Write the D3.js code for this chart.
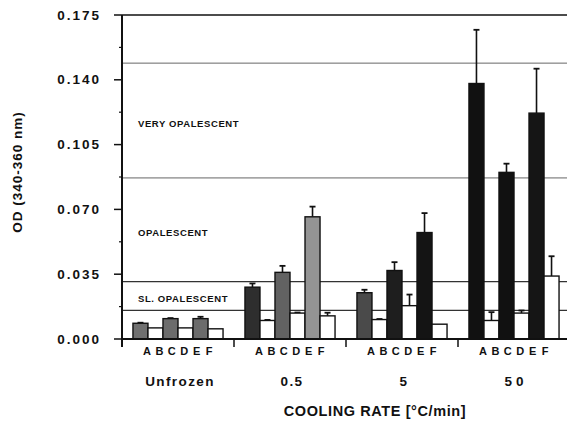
<!DOCTYPE html>
<html>
<head>
<meta charset="utf-8">
<script src="https://cdn.jsdelivr.net/npm/d3@7"></script>
<style>
  body { margin: 0; background: #fff; }
  svg text { font-family: "Liberation Sans", Arial, sans-serif; font-weight: bold; fill: #111; }
</style>
</head>
<body>
<div id="chart"></div>
<script>
// cooling rate groups and samples
const groups = ["Unfrozen", "0.5", "5", "50"];
const samples = ["A", "B", "C", "D", "E", "F"];

// OD values, one row per group (A..F)
const odValues = [
    [0.0085, 0.0060, 0.0110, 0.0060, 0.0110, 0.0055],
    [0.0280, 0.0100, 0.0360, 0.0140, 0.0660, 0.0125],
    [0.0250, 0.0105, 0.0370, 0.0180, 0.0575, 0.0080],
    [0.1380, 0.0100, 0.0900, 0.0140, 0.1220, 0.0340]
];
// upper error bars
const odErrors = [
    [0.0003, 0.0000, 0.0003, 0.0000, 0.0010, 0.0000],
    [0.0020, 0.0003, 0.0035, 0.0003, 0.0055, 0.0017],
    [0.0016, 0.0003, 0.0045, 0.0060, 0.0105, 0.0000],
    [0.0290, 0.0045, 0.0047, 0.0014, 0.0240, 0.0107]
];

// threshold lines and the zone labels
const thresholds = [0.0155, 0.031, 0.087, 0.149];
const zoneLabels = [
    {text: "VERY OPALESCENT", value: 0.1165},
    {text: "OPALESCENT", value: 0.0575},
    {text: "SL. OPALESCENT", value: 0.022}
];
const yTicks = [0, 0.035, 0.070, 0.105, 0.140, 0.175];

// shade of the dark bars (A, C, E) per group
const darkFill = [
    ["#707070", "#6c6c6c", "#6c6c6c"],
    ["#2e2e2e", "#626262", "#949494"],
    ["#4a4a4a", "#1e1e1e", "#141414"],
    ["#111111", "#111111", "#151515"]
];

const svgWidth = 567, svgHeight = 421;
const svg = d3.select("#chart").append("svg")
    .attr("width", svgWidth)
    .attr("height", svgHeight);

let y = d3.scaleLinear().domain([0, 0.175]).range([339, 15]);
let xGroup = d3.scaleBand().domain(groups).range([122, 570]).padding(0);
let xBar = d3.scaleBand().domain(samples).range([0, xGroup.bandwidth()])
    .paddingInner(0).paddingOuter(0.73);
let xLetter = d3.scalePoint().domain(samples).range([-31, 31]);

//Threshold lines
svg.append("g")
    .selectAll("line")
    .data(thresholds)
    .enter().append("line")
    .attr("x1", 122).attr("x2", svgWidth)
    .attr("y1", d => y(d)).attr("y2", d => y(d))
    .attr("stroke", (d, i) => i < 2 ? "#333" : "#666")
    .attr("stroke-width", (d, i) => i < 2 ? 1.3 : 1);

//top frame line
svg.append("line")
    .attr("x1", 122).attr("x2", svgWidth)
    .attr("y1", y(0.175)).attr("y2", y(0.175))
    .attr("stroke", "#111").attr("stroke-width", 1.6);

//zone labels
svg.append("g")
    .selectAll("text")
    .data(zoneLabels)
    .enter().append("text")
    .attr("x", 138)
    .attr("y", d => y(d.value))
    .attr("dominant-baseline", "central")
    .attr("font-size", 9.5)
    .attr("letter-spacing", 0.6)
    .text(d => d.text);

//bars
let barData = [];
groups.forEach((g, gi) => {
    samples.forEach((s, si) => {
        barData.push({group: g, gi: gi, sample: s, si: si,
            value: odValues[gi][si], err: odErrors[gi][si]});
    });
});

let bars = svg.append("g").selectAll("g")
    .data(barData)
    .enter().append("g")
    .attr("transform", d => `translate(${xGroup(d.group) + xBar(d.sample)}, 0)`);

const bw = xBar.bandwidth();

//error bars drawn first so bar covers the stem
bars.filter(d => d.err > 0.0002)
    .append("line")
    .attr("x1", bw / 2).attr("x2", bw / 2)
    .attr("y1", d => y(d.value)).attr("y2", d => y(d.value + d.err))
    .attr("stroke", "#111").attr("stroke-width", 1.6);
bars.filter(d => d.err > 0.0002)
    .append("line")
    .attr("x1", bw / 2 - 3).attr("x2", bw / 2 + 3)
    .attr("y1", d => y(d.value + d.err)).attr("y2", d => y(d.value + d.err))
    .attr("stroke", "#111").attr("stroke-width", 1.8);

bars.append("rect")
    .attr("x", 0)
    .attr("width", bw)
    .attr("y", d => y(d.value))
    .attr("height", d => y(0) - y(d.value))
    .attr("fill", d => d.si % 2 === 0 ? darkFill[d.gi][d.si / 2] : "#fff")
    .attr("stroke", "#111")
    .attr("stroke-width", 1.4);

//y axis
let yAxis = svg.append("g");
yAxis.append("line")
    .attr("x1", 122).attr("x2", 122)
    .attr("y1", y(0.175)).attr("y2", 347)
    .attr("stroke", "#111").attr("stroke-width", 2);
yAxis.selectAll(".major")
    .data(yTicks)
    .enter().append("line")
    .attr("x1", 114).attr("x2", 122)
    .attr("y1", d => y(d)).attr("y2", d => y(d))
    .attr("stroke", "#111").attr("stroke-width", 1.5);
yAxis.selectAll(".minor")
    .data(yTicks.slice(0, -1))
    .enter().append("line")
    .attr("x1", 119).attr("x2", 122)
    .attr("y1", d => y(d + 0.0175)).attr("y2", d => y(d + 0.0175))
    .attr("stroke", "#111").attr("stroke-width", 1.2);
yAxis.selectAll("text")
    .data(yTicks)
    .enter().append("text")
    .attr("x", 101)
    .attr("y", d => y(d))
    .attr("text-anchor", "end")
    .attr("dominant-baseline", "central")
    .attr("font-size", 13.5)
    .attr("letter-spacing", 2)
    .text(d => d3.format(".3f")(d));

svg.append("text")
    .attr("transform", "translate(17, 172) rotate(-90)")
    .attr("text-anchor", "middle")
    .attr("dominant-baseline", "central")
    .attr("font-size", 13.5)
    .attr("letter-spacing", 1)
    .text("OD  (340-360  nm)");

//x axis baseline and separators
svg.append("line")
    .attr("x1", 122).attr("x2", svgWidth)
    .attr("y1", y(0)).attr("y2", y(0))
    .attr("stroke", "#111").attr("stroke-width", 2);
svg.append("g")
    .selectAll("line")
    .data(groups.slice(1))
    .enter().append("line")
    .attr("x1", d => xGroup(d)).attr("x2", d => xGroup(d))
    .attr("y1", y(0)).attr("y2", 347)
    .attr("stroke", "#111").attr("stroke-width", 1.5);

//sample letters
let groupLabels = svg.append("g")
    .selectAll("g")
    .data(groups)
    .enter().append("g")
    .attr("transform", d => `translate(${xGroup(d) + xGroup.bandwidth() / 2}, 0)`);
groupLabels.selectAll("text")
    .data(samples)
    .enter().append("text")
    .attr("x", d => xLetter(d))
    .attr("y", 351)
    .attr("text-anchor", "middle")
    .attr("dominant-baseline", "central")
    .attr("font-size", 11)
    .text(d => d);

groupLabels.append("text")
    .attr("x", 2)
    .attr("y", 381)
    .attr("text-anchor", "middle")
    .attr("dominant-baseline", "central")
    .attr("font-size", 13.5)
    .attr("letter-spacing", d => d === "50" ? 4 : 1.4)
    .text(d => d);

svg.append("text")
    .attr("x", 375)
    .attr("y", 411)
    .attr("text-anchor", "middle")
    .attr("dominant-baseline", "central")
    .attr("font-size", 14.5)
    .attr("letter-spacing", 0.6)
    .text("COOLING RATE [°C/min]");
</script>
</body>
</html>
